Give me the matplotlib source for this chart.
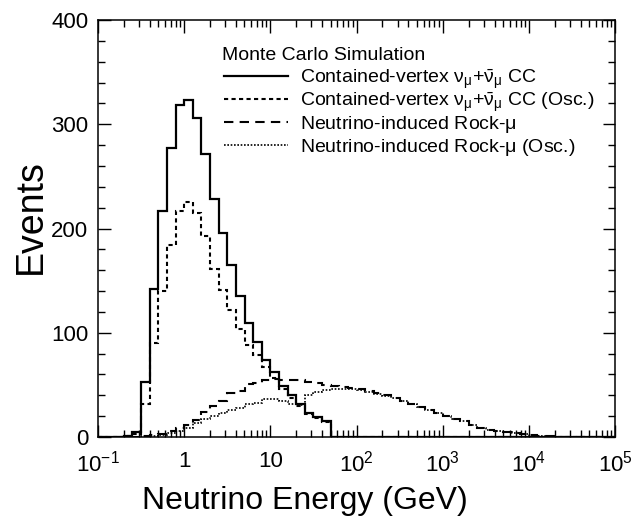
import matplotlib
matplotlib.use("Agg")
import matplotlib.pyplot as plt
import numpy as np
from matplotlib.ticker import FixedLocator, FixedFormatter, LogLocator, MultipleLocator, NullFormatter

plt.rcParams["font.family"] = ["Liberation Sans", "DejaVu Sans"]
plt.rcParams["mathtext.fontset"] = "custom"
plt.rcParams["mathtext.rm"] = "Liberation Sans"
plt.rcParams["mathtext.it"] = "Liberation Sans"
plt.rcParams["mathtext.bf"] = "Liberation Sans:bold"

# 60 bins, 0.1 decade wide, from 10^-1 to 10^5 GeV
log_edges = np.round(np.arange(-1.0, 5.0001, 0.1), 2)

contained_cc = [0, 0, 0, 1, 5, 53, 142, 217, 277, 318,
                323, 306, 271, 228, 196, 165, 135, 109, 91, 74,
                62, 49, 40, 32, 23, 19, 15, 0, 0, 0,
                0, 0, 0, 0, 0, 0, 0, 0, 0, 0,
                0, 0, 0, 0, 0, 0, 0, 0, 0, 0,
                0, 0, 0, 0, 0, 0, 0, 0, 0, 0]
contained_cc_osc = [0, 0, 0, 0.5, 3, 32, 90, 140, 184, 217,
                    225, 215, 193, 161, 141, 122, 104, 88, 79, 67,
                    57, 46, 37, 30, 22, 18, 14, 0, 0, 0,
                    0, 0, 0, 0, 0, 0, 0, 0, 0, 0,
                    0, 0, 0, 0, 0, 0, 0, 0, 0, 0,
                    0, 0, 0, 0, 0, 0, 0, 0, 0, 0]
rock_mu = [0, 0, 0, 0, 0.3, 1, 2, 3, 6, 9,
           12, 16, 24, 30, 35, 42, 44, 51, 52, 55,
           56, 55, 55, 55, 53, 52, 50, 49, 48, 47,
           46, 44, 42, 40, 37, 35, 32, 29, 26, 23,
           20, 17, 15, 12, 9, 7, 6, 5, 3.5, 2.5,
           2, 1, 0.5, 0.3, 0, 0, 0, 0, 0, 0]
rock_mu_osc = [0, 0, 0, 0, 0.2, 0.5, 1, 2, 4, 6,
               9, 13, 17, 20, 23, 26, 28, 32, 33, 36,
               36, 35, 32, 31, 40, 43, 45, 46, 46, 46,
               45, 43.5, 41.5, 39.5, 37, 35, 32, 29, 26, 23,
               20, 17, 15, 12, 9, 7, 6, 5, 3.5, 2.5,
               2, 1, 0.5, 0.3, 0, 0, 0, 0, 0, 0]

x_tick_vals = [1e-1, 1, 10, 1e2, 1e3, 1e4, 1e5]
x_tick_labels = [r"$10^{-1}$", "1", "10", r"$10^{2}$", r"$10^{3}$", r"$10^{4}$", r"$10^{5}$"]
y_tick_vals = [0, 100, 200, 300, 400]

legend_title = "Monte Carlo Simulation"
labels = [
    r"Contained-vertex $\nu_{\mu}$+$\bar{\nu}_{\mu}$ CC",
    r"Contained-vertex $\nu_{\mu}$+$\bar{\nu}_{\mu}$ CC (Osc.)",
    r"Neutrino-induced Rock-$\mu$",
    r"Neutrino-induced Rock-$\mu$ (Osc.)",
]
series = [contained_cc, contained_cc_osc, rock_mu, rock_mu_osc]
styles = [
    dict(lw=1.6, linestyle="-"),
    dict(lw=1.5, linestyle=(0, (2.0, 1.6))),
    dict(lw=1.5, linestyle=(0, (4.5, 3.0))),
    dict(lw=1.2, linestyle=(0, (1.0, 1.0))),
]

edges = 10.0 ** log_edges

fig = plt.figure(figsize=(6.34, 5.21), dpi=100)
ax = fig.add_axes([0.1546, 0.1612, 0.8155, 0.8004])

for vals, st in zip(series, styles):
    ax.stairs(vals, edges, color="black", **st)

ax.set_xscale("log")
ax.set_xlim(1e-1, 1e5)
ax.set_ylim(0, 400)

ax.xaxis.set_major_locator(FixedLocator(x_tick_vals))
ax.xaxis.set_major_formatter(FixedFormatter(x_tick_labels))
ax.xaxis.set_minor_locator(LogLocator(base=10, subs=np.arange(2, 10), numticks=20))
ax.xaxis.set_minor_formatter(NullFormatter())
ax.yaxis.set_major_locator(FixedLocator(y_tick_vals))
ax.yaxis.set_minor_locator(MultipleLocator(20))

ax.tick_params(which="both", direction="in", top=True, right=True, width=1.0)
ax.tick_params(which="major", length=9, labelsize=16)
ax.tick_params(axis="x", which="major", pad=10)
ax.tick_params(axis="y", which="major", pad=7)
ax.tick_params(which="minor", length=5)
for s in ax.spines.values():
    s.set_linewidth(1.1)

ax.set_xlabel("Neutrino Energy (GeV)", fontsize=23)
ax.set_ylabel("Events", fontsize=27)
ax.xaxis.set_label_coords(0.40, -0.118)
ax.yaxis.set_label_coords(-0.096, 0.528)

# hand-placed legend block (axes fraction coordinates)
x_line0, x_line1, x_text = 0.2437, 0.3675, 0.3907
ax.text(0.240, 0.905, legend_title, transform=ax.transAxes, fontsize=14, va="baseline")
row_y = [0.8657, 0.8106, 0.7554, 0.7002]
for y, lab, st in zip(row_y, labels, styles):
    ax.plot([x_line0, x_line1], [y, y], transform=ax.transAxes, color="black", **st)
    ax.text(x_text, y - 0.0168, lab, transform=ax.transAxes, fontsize=14, va="baseline")

fig.savefig("out.png", dpi=100)
plt.close(fig)
